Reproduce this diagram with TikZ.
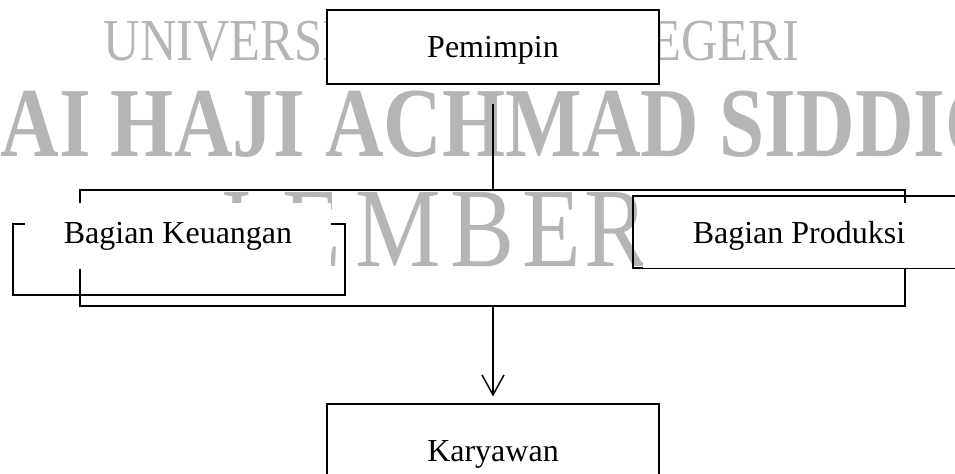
\documentclass[tikz,border=0pt]{standalone}
\usepackage{fontspec}
\setmainfont{Liberation Serif}
\usetikzlibrary{arrows.meta}
\definecolor{wmgray}{gray}{0.71}

\tikzset{
  box/.style={draw, line width=1.1bp, inner sep=0pt, font=\fontsize{32bp}{38bp}\selectfont},
  textframe/.style={fill=white, inner sep=0pt, font=\fontsize{32bp}{38bp}\selectfont},
  wm/.style={text=wmgray, inner sep=0pt},
}

\begin{document}
\begin{tikzpicture}[x=1bp, y=-1bp, line width=1.1bp]
  \clip (0,0) rectangle (955,474);

  % watermark behind the chart
  \node[wm, anchor=base west, font=\fontsize{59.5bp}{60bp}\selectfont] (univ) at (103,61)
        {\scalebox{0.85}[1]{UNIVERSITAS ISLAM NEGERI}};
  \node[wm, anchor=base west, font=\bfseries\fontsize{99bp}{99bp}\selectfont] (kiai) at (0,157)
        {\scalebox{0.82}[1]{\llap{KI}AI HAJI ACHMAD SIDDIQ}};
  \foreach \ch/\cx in {J/232,E/312,M/398,B/483,E/552,R/617}
    \node[wm, anchor=base, font=\fontsize{113bp}{113bp}\selectfont] (jember-\cx) at (\cx,267)
          {\scalebox{0.85}[1]{\ch}};

  % bracket joining the two sections
  \coordinate (tl) at (80,190);
  \coordinate (tr) at (905,190);
  \coordinate (bl) at (80,306);
  \coordinate (br) at (905,306);
  \draw (bl) -- (tl) -- (tr) -- (br) -- cycle;

  \node[box, minimum width=332bp, minimum height=71bp] (keuangan) at (179,259.5) {};
  \node[box, minimum width=330bp, minimum height=72bp] (produksi) at (798,232) {};
  \node[textframe, minimum width=306bp, minimum height=66bp] (keutext) at (178,236) {Bagian Keuangan};
  \node[textframe, minimum width=312bp, minimum height=65bp] (protext) at (799,235.5) {Bagian Produksi};

  \node[box, fill=white, text depth=0pt, minimum width=332bp, minimum height=74bp] (pemimpin) at (493,47) {Pemimpin};
  \node[box, fill=white, minimum width=332bp, minimum height=101bp] (karyawan) at (493,454.5) {Karyawan};

  \draw[shorten <=19bp] (pemimpin.south) -- (pemimpin.south |- tl);
  \draw[-{Straight Barb[length=20bp,width=22bp]}, line width=1.5bp, shorten >=7bp]
        (karyawan.north |- bl) -- (karyawan.north);
\end{tikzpicture}
\end{document}
